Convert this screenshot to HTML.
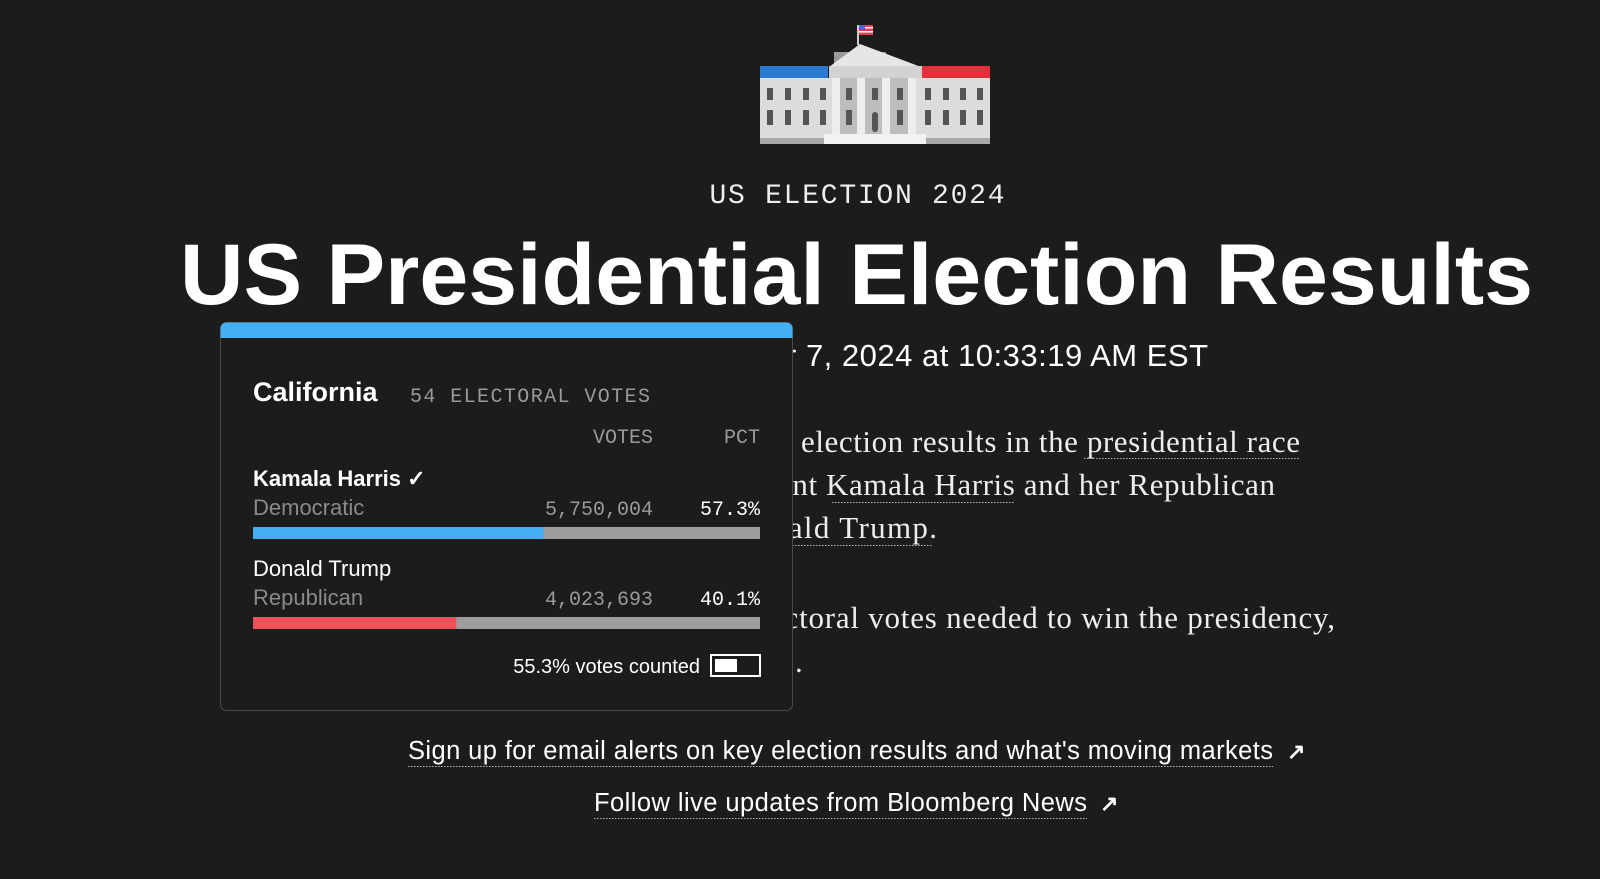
<!DOCTYPE html>
<html><head><meta charset="utf-8"><style>
html,body{margin:0;padding:0;background:#1c1c1c;width:1600px;height:879px;overflow:hidden}
svg{display:block}
.sans{font-family:"Liberation Sans",sans-serif}
.serif{font-family:"Liberation Serif",serif}
.mono{font-family:"Liberation Mono",monospace}
</style></head><body>
<svg id="page" width="1600" height="879" viewBox="0 0 1600 879" xmlns="http://www.w3.org/2000/svg">
<rect width="1600" height="879" fill="#1c1c1c"/>
<g>
  <rect x="857" y="25" width="2" height="20" fill="#ccc"/>
  <rect x="859" y="25" width="14" height="10" fill="#e04050"/>
  <rect x="859" y="25" width="6" height="5" fill="#3a6fd0"/>
  <rect x="865" y="27" width="8" height="1.5" fill="#fff"/><rect x="859" y="31" width="14" height="1.5" fill="#fff"/>
  <rect x="834" y="52" width="52" height="14" fill="#9a9a9a"/>
  <polygon points="829,67 860,44 921,67" fill="#e6e6e6"/>
  <rect x="760" y="66" width="68" height="12" fill="#2a7bd0"/>
  <rect x="922" y="66" width="68" height="12" fill="#e4303c"/>
  <rect x="760" y="78" width="230" height="60" fill="#dcdcdc"/>
  <rect x="829" y="66" width="93" height="12" fill="#d2d2d2"/>
  <rect x="835" y="78" width="80" height="60" fill="#bdbdbd"/>
  <rect x="832" y="78" width="8" height="60" fill="#eee"/><rect x="857" y="78" width="8" height="60" fill="#eee"/><rect x="882" y="78" width="8" height="60" fill="#eee"/><rect x="908" y="78" width="8" height="60" fill="#eee"/>
  <rect x="760" y="138" width="230" height="6" fill="#a8a8a8"/>
  <rect x="824" y="134" width="102" height="10" fill="#f2f2f2"/>
  <g fill="#555">
    <rect x="767" y="88" width="6" height="12"/><rect x="785" y="88" width="6" height="12"/><rect x="803" y="88" width="6" height="12"/><rect x="820" y="88" width="6" height="12"/>
    <rect x="767" y="110" width="6" height="15"/><rect x="785" y="110" width="6" height="15"/><rect x="803" y="110" width="6" height="15"/><rect x="820" y="110" width="6" height="15"/>
    <rect x="846" y="88" width="6" height="12"/><rect x="872" y="88" width="6" height="12"/><rect x="897" y="88" width="6" height="12"/>
    <rect x="846" y="110" width="6" height="15"/><rect x="872" y="112" width="6" height="20" rx="3"/><rect x="897" y="110" width="6" height="15"/>
    <rect x="925" y="88" width="6" height="12"/><rect x="943" y="88" width="6" height="12"/><rect x="960" y="88" width="6" height="12"/><rect x="977" y="88" width="6" height="12"/>
    <rect x="925" y="110" width="6" height="15"/><rect x="943" y="110" width="6" height="15"/><rect x="960" y="110" width="6" height="15"/><rect x="977" y="110" width="6" height="15"/>
  </g>
</g>
<text class="mono" x="857" y="203" font-size="28" fill="#eee" text-anchor="middle" textLength="295">US ELECTION 2024</text>
<text class="sans" x="180" y="304" font-size="86" font-weight="bold" fill="#fff" textLength="1353" lengthAdjust="spacingAndGlyphs">US Presidential Election Results</text>
<text class="sans" x="786" y="366" font-size="31" fill="#fff" textLength="422">r 7, 2024 at 10:33:19 AM EST</text>
<g class="serif" font-size="31" fill="#eee">
  <text x="801" y="452" textLength="499">election results in the presidential race</text>
  <text x="778" y="495" textLength="497">ent Kamala Harris and her Republican</text>
  <text x="772" y="538" textLength="165">nald Trump.</text>
  <text x="770" y="628" textLength="565">ectoral votes needed to win the presidency,</text>
  <text x="795" y="672">.</text>
</g>
<g stroke="#bbb" stroke-width="1" stroke-dasharray="1.5 1.5">
  <line x1="1084" y1="458.5" x2="1300" y2="458.5"/>
  <line x1="832" y1="502.5" x2="1015" y2="502.5"/>
  <line x1="780" y1="545.5" x2="933" y2="545.5"/>
  <line x1="408" y1="766.5" x2="1273" y2="766.5"/>
  <line x1="594" y1="818.5" x2="1087" y2="818.5"/>
</g>
<text class="sans" x="408" y="759" font-size="25.5" fill="#fff" textLength="865">Sign up for email alerts on key election results and what's moving markets</text>
<text class="sans" x="1287" y="759" font-size="22" fill="#fff" font-weight="bold">↗</text>
<text class="sans" x="594" y="811" font-size="25.5" fill="#fff" textLength="493">Follow live updates from Bloomberg News</text>
<text class="sans" x="1100" y="811" font-size="22" fill="#fff" font-weight="bold">↗</text>

<g>
  <rect x="220.5" y="322.5" width="572" height="388" rx="6" fill="#1c1c1c" stroke="#4a4a4a"/>
  <path d="M220.5 338 V328.5 a6 6 0 0 1 6 -6 H786.5 a6 6 0 0 1 6 6 V338 Z" fill="#43b0f4"/>
  <text class="sans" x="253" y="401" font-size="27" font-weight="bold" fill="#fff">California</text>
  <text class="mono" x="410" y="402" font-size="20" fill="#9a9a9a" textLength="240">54 ELECTORAL VOTES</text>
  <text class="mono" x="653" y="443" font-size="20" fill="#9a9a9a" text-anchor="end">VOTES</text>
  <text class="mono" x="760" y="443" font-size="20" fill="#9a9a9a" text-anchor="end">PCT</text>
  <g id="rows"></g>
  <text class="sans" x="700" y="673" font-size="20" fill="#fff" text-anchor="end">55.3% votes counted</text>
  <rect x="711" y="655" width="49" height="21" fill="none" stroke="#fff" stroke-width="2"/>
  <rect x="715" y="659" width="22" height="13" fill="#fff"/>
</g>
</svg>
<script>
const candidates = ["Kamala Harris ✓", "Donald Trump"];
const parties = ["Democratic", "Republican"];
const votes = ["5,750,004", "4,023,693"];
const pcts = [57.3, 40.1];
const colors = ["#43b0f4", "#f0525c"];
const NS = "http://www.w3.org/2000/svg";
const x0 = 253, x1 = 760;
function xScale(p){ return x0 + (x1 - x0) * p / 100; }
const rows = document.getElementById('rows');
function mk(tag, attrs, txt){
  const e = document.createElementNS(NS, tag);
  for (const k in attrs) e.setAttribute(k, attrs[k]);
  if (txt !== undefined) e.textContent = txt;
  rows.appendChild(e);
  return e;
}
candidates.forEach((c, i) => {
  const y = 486 + i * 90;
  let e = mk('text', {x: x0, y: y, 'font-size': 22, fill: '#fff', 'font-weight': i === 0 ? 'bold' : 'normal', class: 'sans'}, c);
  
  
  e = mk('text', {x: x0, y: y + 29, 'font-size': 22, fill: '#8a8a8a', class: 'sans'}, parties[i]);
  
  
  e = mk('text', {x: 653, y: y + 29, 'font-size': 20, fill: '#9a9a9a', 'text-anchor': 'end', class: 'mono'}, votes[i]);
  
  
  e = mk('text', {x: 760, y: y + 29, 'font-size': 20, fill: '#fff', 'text-anchor': 'end', class: 'mono'}, pcts[i].toFixed(1) + '%');
  
  
  e = mk('rect', {x: x0, y: y + 41, width: x1 - x0, height: 12, fill: '#9d9d9d'});
  
  
  e = mk('rect', {x: x0, y: y + 41, width: xScale(pcts[i]) - x0, height: 12, fill: colors[i]});
  
  
});
</script>
</body></html>
